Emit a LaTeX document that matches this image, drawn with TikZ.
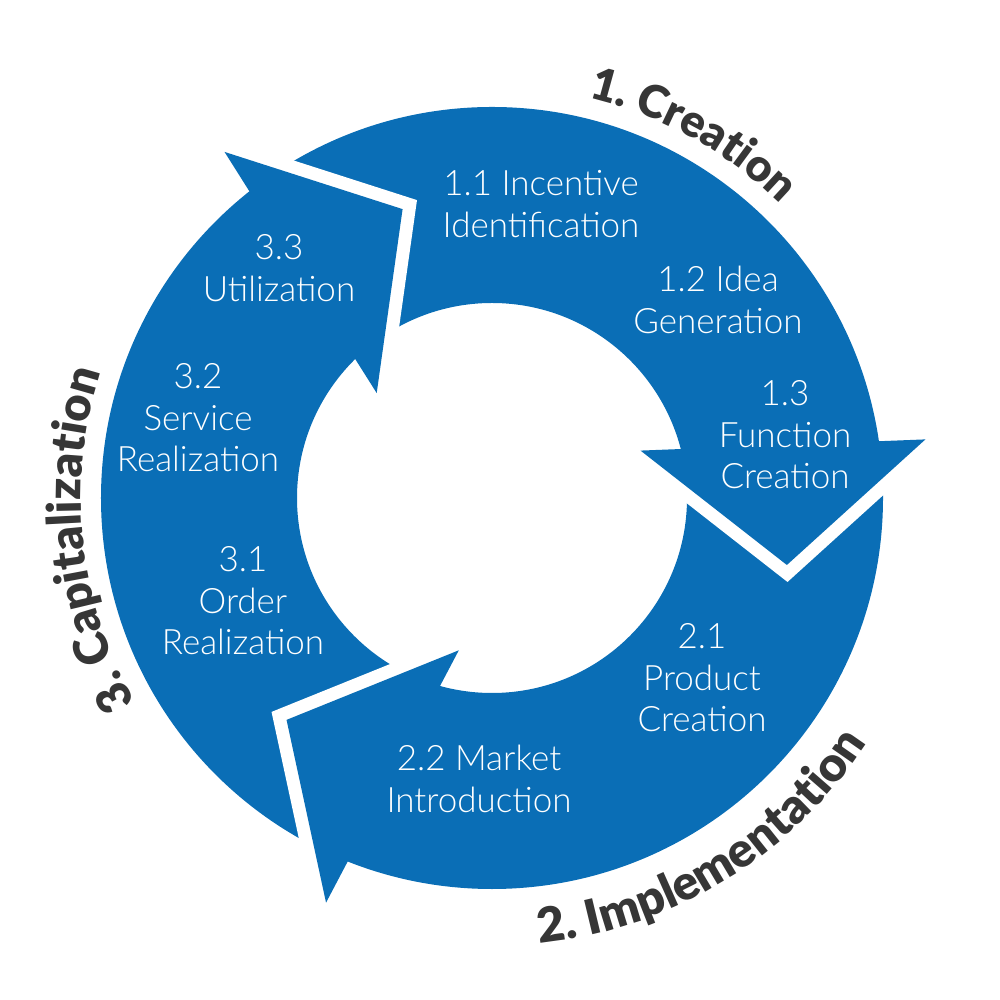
\documentclass[tikz,border=0pt]{standalone}
\usepackage{fontspec}
\setmainfont{Lato}
\newfontfamily\stagefont{Lato Light}
\newfontfamily\labelfont{Lato Black}
\usetikzlibrary{decorations.text}
\definecolor{ringblue}{HTML}{0A6EB6}
\definecolor{labelgray}{HTML}{363636}
\begin{document}
\begin{tikzpicture}[
  stagetext/.style={text=white, align=center, font=\stagefont\fontsize{9.95}{11.8}\selectfont, inner sep=0pt},
  gapline/.style={white, line width=0.26cm, line join=miter, miter limit=10},
]
\useasboundingbox (-4.92,-5.02) rectangle (5.08,4.98);
\fill[ringblue, even odd rule] (0,0) circle[radius=3.91] (0,0) circle[radius=1.95];
\foreach \a in {0,-120,-240}{
  \draw[gapline] (\a+17.7:1.559) -- (\a-12.8:3.024) -- (\a+7.7:4.374);
  \fill[ringblue] (\a+17.7:1.559) -- (\a-12.8:3.024) -- (\a+7.7:4.374) -- cycle;
}
\node[stagetext] (s11) at (0.49,2.94) {1.1 Incentive\\Identification};
\node[stagetext] (s12) at (2.26,1.98) {1.2 Idea\\Generation};
\node[stagetext] (s13) at (2.93,0.63) {1.3\\Function\\Creation};
\node[stagetext] (s21) at (2.10,-1.80) {2.1\\Product\\Creation};
\node[stagetext] (s22) at (-0.13,-2.81) {2.2 Market\\Introduction};
\node[stagetext] (s31) at (-2.49,-1.03) {3.1\\Order\\Realization};
\node[stagetext] (s32) at (-2.94,0.80) {3.2\\Service\\Realization};
\node[stagetext] (s33) at (-2.13,2.30) {3.3\\Utilization};
\path[decorate, decoration={text along path, text align=center,
  text={|\color{labelgray}\labelfont\fontsize{12.8}{15}\selectfont|1. Creation}}]
  (95:4.12) arc[start angle=95, end angle=27, radius=4.12];
\path[decorate, decoration={text along path, text align=center,
  text={|\color{labelgray}\labelfont\fontsize{13.7}{15}\selectfont|2. Implementation}}]
  (-107:4.48) arc[start angle=-107, end angle=-10, radius=4.48];
\path[decorate, decoration={text along path, text align=center,
  text={|\color{labelgray}\labelfont\fontsize{13.4}{15}\selectfont|3. Capitalization}}]
  (236:4.11) arc[start angle=236, end angle=136, radius=4.11];
\end{tikzpicture}
\end{document}
